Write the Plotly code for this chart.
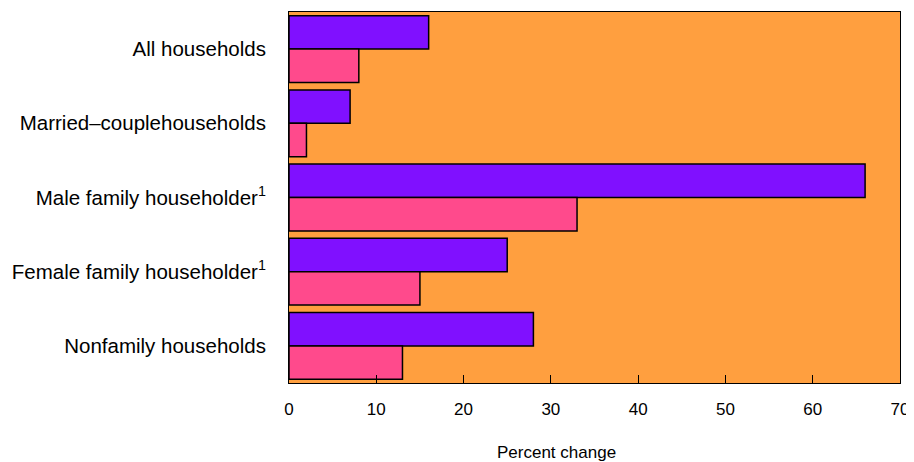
import plotly.graph_objects as go

categories = ["All households", "Married–couplehouseholds", "Male family householder<sup>1</sup>",
              "Female family householder<sup>1</sup>", "Nonfamily households"]
series_a = [16, 7, 66, 25, 28]
series_b = [8, 2, 33, 15, 13]
x_ticks = [0, 10, 20, 30, 40, 50, 60, 70]

fig = go.Figure()
fig.add_trace(go.Bar(y=categories, x=series_a, orientation="h",
                     marker=dict(color="#8010FF", line=dict(color="black", width=1.5))))
fig.add_trace(go.Bar(y=categories, x=series_b, orientation="h",
                     marker=dict(color="#FF4A8C", line=dict(color="black", width=1.5))))

# page body has an 8px default margin, so the figure is sized to fit the window
fig.update_layout(
    width=906, height=454,
    margin=dict(l=281, r=14, t=4, b=79),
    barmode="group", bargap=0.1, bargroupgap=0,
    showlegend=False,
    plot_bgcolor="#FF9F3F", paper_bgcolor="white",
    font=dict(family="Liberation Sans, Arial, sans-serif", size=17, color="black"),
    annotations=[dict(text="Percent change", xref="paper", yref="paper", x=0.4386, y=-0.186,
                      xanchor="center", yanchor="middle", showarrow=False,
                      font=dict(size=17))],
)
fig.update_xaxes(range=[0, 70], tickvals=x_ticks, ticks="inside", ticklen=8, tickcolor="black",
                 showgrid=False, zeroline=False, showline=True, linecolor="black", linewidth=1,
                 mirror=True, automargin=False, ticklabelstandoff=11, tickfont=dict(size=17))
fig.update_yaxes(autorange="reversed", showgrid=False, showline=True, linecolor="black",
                 linewidth=1, mirror=True, ticks="", ticklabelstandoff=18, automargin=False,
                 tickfont=dict(size=20.5))
fig.write_html("out.html")
